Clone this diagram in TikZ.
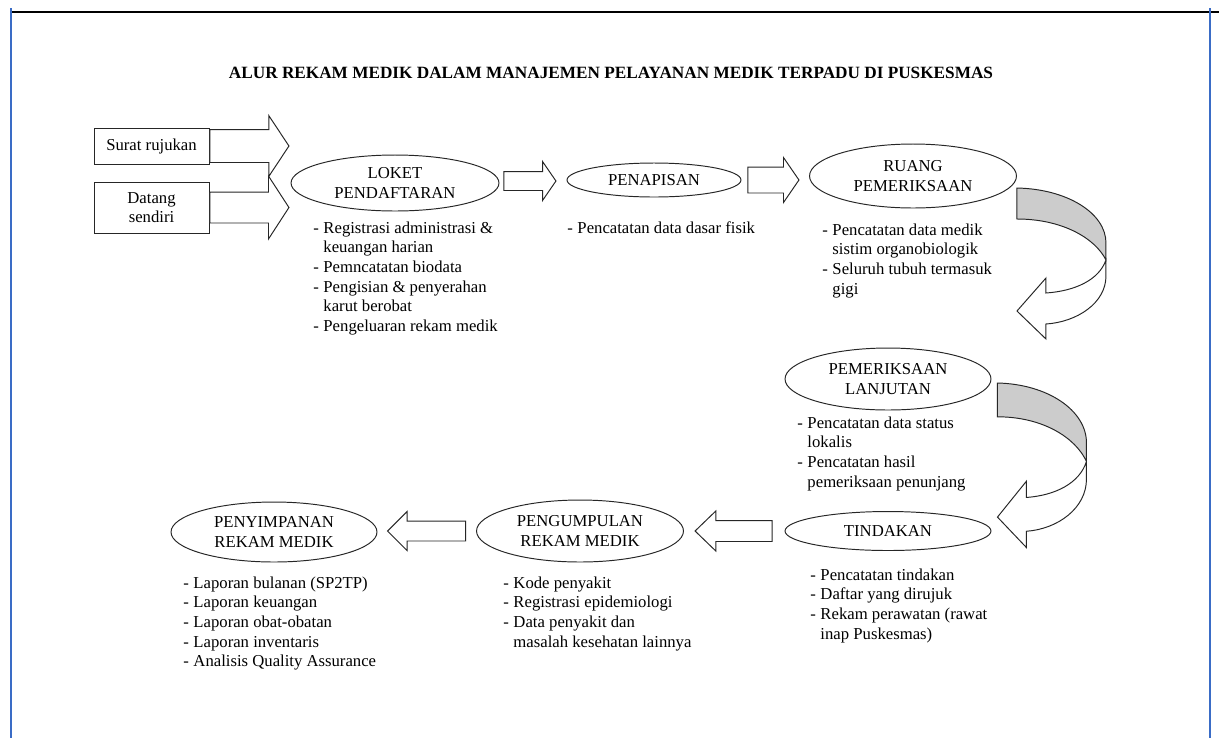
\documentclass[tikz,border=0pt]{standalone}
\usepackage{fontspec}
\setmainfont{Liberation Serif}
\usetikzlibrary{shapes.geometric,shapes.arrows,positioning,calc}
\definecolor{frameblue}{HTML}{3A6CC6}
\newcommand{\lst}[1]{\begin{tabular}[t]{@{}p{2mm}@{}l@{}}#1\end{tabular}}

\begin{document}
\begin{tikzpicture}[x=0.02cm,y=-0.02cm,line width=0.55pt,
  every node/.style={font=\fontsize{9.5}{11.2}\selectfont,inner sep=0pt},
  ell/.style={draw=black!85,ellipse,align=center},
  box/.style={draw=black!85,fill=white,align=center,minimum width=23mm},
  barrow/.style={draw=black!85,fill=white,single arrow,single arrow head indent=0pt,minimum width=0pt,inner xsep=0pt,anchor=tail},
  lst/.style={anchor=base west},
  uturn/.pic={
    \draw[draw=black!85,fill=gray!40] (0,0) .. controls (50,1) and (89,25) .. (89,55) -- (89,72)
      .. controls (78,50) and (45,31) .. (0,31) -- cycle;
    \draw[draw=black!85,fill=white] (89,72) -- (89,88) .. controls (89,115) and (60,134) .. (29,136)
      -- (29,151) -- (0,123) -- (29,90) -- (29,105) .. controls (58,103) and (82,92) .. (89,72) -- cycle;
  }]
\fill[white] (0,0) rectangle (1219,738);
\useasboundingbox (0,0) rectangle (1219,738);
\draw[line width=0.4mm] (10,12) -- (1219,12);
\draw[line width=0.45mm,frameblue] (11,8) -- (11,738);
\draw[line width=0.45mm,frameblue] (1210,8) -- (1210,738);

\node[font=\fontsize{9.8}{11.2}\selectfont\bfseries] (title) at (611,73) {ALUR REKAM MEDIK DALAM MANAJEMEN PELAYANAN MEDIK TERPADU DI PUSKESMAS};

\node[ell,minimum width=41.6mm,minimum height=11.2mm] (loket) at (395,183) {LOKET\\PENDAFTARAN};
\node[ell,minimum width=34.8mm,minimum height=6.8mm] (penapisan) at (654,180) {PENAPISAN};
\node[ell,minimum width=41.4mm,minimum height=12.8mm] (ruang) at (913,176) {RUANG\\PEMERIKSAAN};
\node[ell,minimum width=41.2mm,minimum height=12.4mm] (lanjutan) at (888,379) {PEMERIKSAAN\\LANJUTAN};
\node[ell,minimum width=41.2mm,minimum height=7.8mm] (tindakan) at (888,531) {TINDAKAN};
\node[ell,minimum width=41.4mm,minimum height=12.4mm] (pengumpulan) at (580,531) {PENGUMPULAN\\REKAM MEDIK};
\node[ell,minimum width=41.2mm,minimum height=12mm] (penyimpanan) at (274,532) {PENYIMPANAN\\REKAM MEDIK};

\node[box,minimum height=7.2mm] (surat) at (151.5,146) {Surat rujukan};
\node[box,minimum height=10.2mm] (datang) at (151.5,207.5) {Datang\\sendiri};

\node[barrow,minimum height=15.8mm,inner ysep=3.2mm,single arrow head extend=2.8mm,single arrow tip angle=113] (in1) at (surat.east) {};
\node[barrow,minimum height=15.8mm,inner ysep=3mm,single arrow head extend=3.2mm,single arrow tip angle=114] (in2) at (datang.east) {};
\node[barrow,minimum height=10.4mm,inner ysep=1.8mm,single arrow head extend=2mm,single arrow tip angle=111] (a1) at ($(loket.east)+(4,-2)$) {};
\node[barrow,minimum height=10.2mm,inner ysep=2.5mm,single arrow head extend=1.9mm,single arrow tip angle=111] (a2) at ($(penapisan.east)+(6,0)$) {};
\node[barrow,rotate=180,minimum height=15.4mm,inner ysep=2mm,single arrow head extend=1.9mm,single arrow tip angle=88] (a3) at ($(tindakan.west)+(-12,0)$) {};
\node[barrow,rotate=180,minimum height=15.6mm,inner ysep=1.9mm,single arrow head extend=1.9mm,single arrow tip angle=90] (a4) at ($(pengumpulan.west)+(-10,0)$) {};

\pic (u1) at ($(ruang.east)+(0,12)$) {uturn};
\pic[yscale=1.09] (u2) at ($(lanjutan.east)+(6,4)$) {uturn};

\node[lst] (l1) at (313,233) {\lst{- & Registrasi administrasi \&\\ & keuangan harian\\ - & Pemncatatan biodata\\ - & Pengisian \& penyerahan\\ & karut berobat\\ - & Pengeluaran rekam medik}};
\node[lst] (l2) at (567,233) {\lst{- & Pencatatan data dasar fisik}};
\node[lst] (l3) at (822,235) {\lst{- & Pencatatan data medik\\ & sistim organobiologik\\ - & Seluruh tubuh termasuk\\ & gigi}};
\node[lst] (l4) at (797,428) {\lst{- & Pencatatan data status\\ & lokalis\\ - & Pencatatan hasil\\ & pemeriksaan penunjang}};
\node[lst] (l5) at (810,580) {\lst{- & Pencatatan tindakan\\ - & Daftar yang dirujuk\\ - & Rekam perawatan (rawat\\ & inap Puskesmas)}};
\node[lst] (l6) at (503,588) {\lst{- & Kode penyakit\\ - & Registrasi epidemiologi\\ - & Data penyakit dan\\ & masalah kesehatan lainnya}};
\node[lst] (l7) at (183,588) {\lst{- & Laporan bulanan (SP2TP)\\ - & Laporan keuangan\\ - & Laporan obat-obatan\\ - & Laporan inventaris\\ - & Analisis Quality Assurance}};
\end{tikzpicture}
\end{document}
